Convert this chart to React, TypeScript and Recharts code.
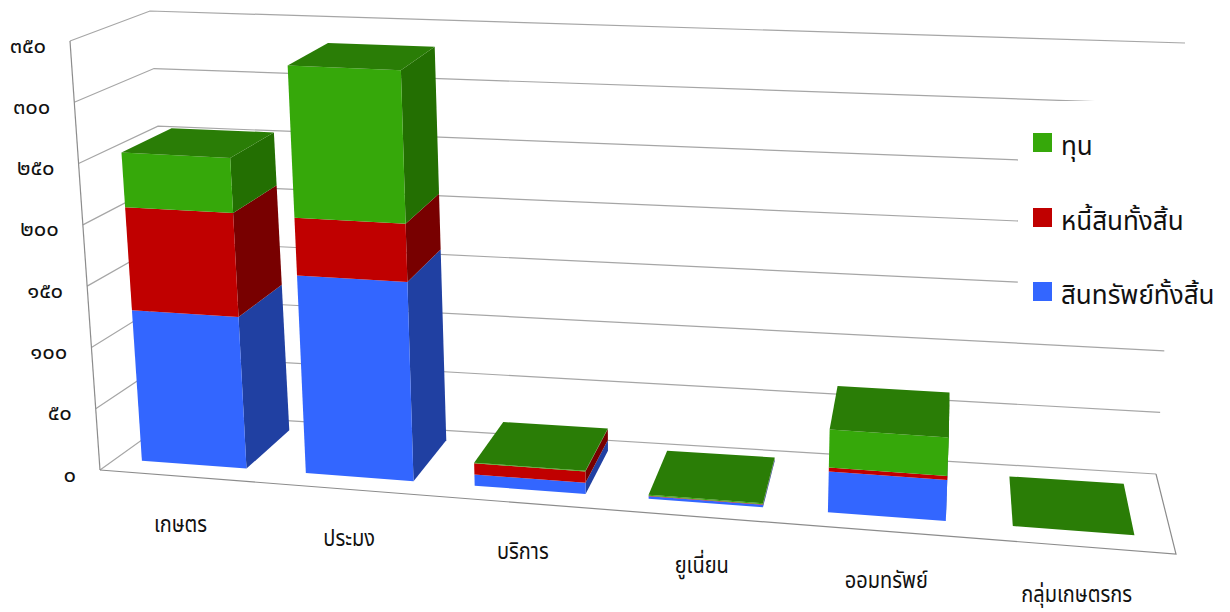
import { BarChart, Bar, XAxis, YAxis, CartesianGrid, Legend } from "recharts";

// values (million baht)
const categories = ["เกษตร", "ประมง", "บริการ", "ยูเนี่ยน", "ออมทรัพย์", "กลุ่มเกษตรกร"];
const assets = [124, 161, 9, 2, 32, 0];
const debts = [85, 47, 9, 0.4, 3, 0];
const equity = [45, 124, 0.5, 0.8, 30, 0];

const yTicks = [0, 50, 100, 150, 200, 250, 300, 350];
const yLabels = ["๐", "๕๐", "๑๐๐", "๑๕๐", "๒๐๐", "๒๕๐", "๓๐๐", "๓๕๐"];

const seriesNames = ["สินทรัพย์ทั้งสิ้น", "หนี้สินทั้งสิ้น", "ทุน"];
const frontColors = ["#3366ff", "#c00000", "#36a80a"];
const sideColors = ["#2040a2", "#780000", "#236f02"];
const topColor = "#2a7d06";

const data = categories.map((name, i) => ({
  name,
  assets: assets[i],
  debts: debts[i],
  equity: equity[i],
}));

const FONT = 'Tahoma, "Noto Sans Thai", "Noto Sans", sans-serif';
const TEXT = "#111";

// flat plot area that recharts works in
const W = 1230;
const H = 612;
const PLOT = { left: 100, top: 41, width: 1076, height: 429 };

// corners of the 3D box on screen: front/back, top/bottom, left/right
const FBL = [100, 470];
const FBR = [1176, 554];
const FTL = [70, 41];
const FTR = [1204, 91];
const BBL = [178, 414];
const BBR = [1156, 474];
const BTL = [150, 11];
const BTR = [1185, 43];

const BAR_FRONT = 0.2;
const BAR_BACK = 0.85;
const BAR_SHIFT = -3;
const PERSPECTIVE = 1.095;

const mix = (a: number[], b: number[], t: number) => [a[0] + (b[0] - a[0]) * t, a[1] + (b[1] - a[1]) * t];

// plot coordinates plus a depth (0 front, 1 back) to screen coordinates
const project = (px: number, py: number, d: number) => {
  const u0 = (px - PLOT.left) / PLOT.width;
  const u = u0 / (PERSPECTIVE - (PERSPECTIVE - 1) * u0);
  const v = (PLOT.top + PLOT.height - py) / PLOT.height;
  const front = mix(mix(FBL, FBR, u), mix(FTL, FTR, u), v);
  const back = mix(mix(BBL, BBR, u), mix(BTL, BTR, u), v);
  return mix(front, back, d);
};

const poly = (pts: number[][]) => pts.map((p) => `${p[0]},${p[1]}`).join(" ");

const Box3D = (props: any) => {
  const { y, width, height, fill, side, isTop } = props;
  const x = props.x + BAR_SHIFT;
  const fl0 = project(x, y + height, BAR_FRONT);
  const fr0 = project(x + width, y + height, BAR_FRONT);
  const fl1 = project(x, y, BAR_FRONT);
  const fr1 = project(x + width, y, BAR_FRONT);
  const br0 = project(x + width, y + height, BAR_BACK);
  const br1 = project(x + width, y, BAR_BACK);
  const bl1 = project(x, y, BAR_BACK);
  return (
    <g>
      {br1[0] > fr1[0] && <polygon points={poly([fr0, br0, br1, fr1])} fill={side} />}
      <polygon points={poly([fl0, fr0, fr1, fl1])} fill={fill} />
      {isTop && <polygon points={poly([fl1, fr1, br1, bl1])} fill={topColor} />}
    </g>
  );
};

const GridLevel = (props: any) => {
  const y = props.y1;
  const isFloor = Math.abs(y - (PLOT.top + PLOT.height)) < 1;
  const isRoof = Math.abs(y - PLOT.top) < 1;
  const right = PLOT.left + PLOT.width;
  const a = project(PLOT.left, y, 0);
  const b = project(PLOT.left, y, 1);
  const c = project(right, y, 1);
  return (
    <g fill="none" strokeWidth={1.2}>
      <polyline points={poly([a, b, c])} stroke="#a6a6a6" />
      {isFloor && <polyline points={poly([a, project(right, y, 0), c])} stroke="#8c8c8c" />}
      {isRoof && <line x1={a[0]} y1={a[1]} x2={FBL[0]} y2={FBL[1]} stroke="#8c8c8c" />}
    </g>
  );
};

const YTick = (props: any) => {
  const [x, y] = project(PLOT.left, props.y, 0);
  return (
    <text x={x - 24} y={y + 11.5} textAnchor="end" fontSize={22} fontFamily={FONT} fill={TEXT}>
      {yLabels[props.index]}
    </text>
  );
};

const XTick = (props: any) => {
  const [x, y] = project(props.x, PLOT.top + PLOT.height, 0);
  return (
    <text
      transform={`translate(${x - 2},${y + 56}) scale(0.87,1)`}
      textAnchor="middle"
      fontSize={23}
      fontFamily={FONT}
      fill={TEXT}
    >
      {props.payload.value}
    </text>
  );
};

const LegendBox = ({ payload }: any) => (
  <div style={{ position: "relative", width: 212, height: 207, background: "#fff", fontFamily: FONT }}>
    {[...(payload || [])].reverse().map((item: any, i: number) => (
      <div key={item.value} style={{ position: "absolute", left: 15, top: 32 + i * 74.5, height: 19, display: "flex", alignItems: "center" }}>
        <span style={{ width: 19, height: 19, background: item.color, marginRight: 9, flex: "none" }} />
        <span style={{ fontSize: 26, color: TEXT, whiteSpace: "nowrap", lineHeight: "19px", position: "relative", top: 5 }}>{item.value}</span>
      </div>
    ))}
  </div>
);

export default function App() {
  return (
    <div style={{ position: "absolute", left: 0, top: 0, width: W, height: H, overflow: "hidden", background: "#fff" }}>
      <div style={{ position: "absolute", left: 4, top: -23, fontSize: 20, fontFamily: FONT, color: TEXT, whiteSpace: "nowrap" }}>
        หน่วย: ล้านบาท
      </div>
      <BarChart
        width={W}
        height={H}
        data={data}
        barCategoryGap="18%"
        margin={{ top: PLOT.top, left: 40, right: W - PLOT.left - PLOT.width, bottom: 112 }}
      >
        <CartesianGrid vertical={false} horizontal={(p: any) => <GridLevel key={p.key} {...p} />} />
        <XAxis dataKey="name" height={30} axisLine={false} tickLine={false} interval={0} tick={(p: any) => <XTick {...p} />} />
        <YAxis width={60} domain={[0, 350]} ticks={yTicks} axisLine={false} tickLine={false} interval={0} tick={(p: any) => <YTick {...p} />} />
        <Legend
          layout="vertical"
          align="center"
          verticalAlign="middle"
          itemSorter={null}
          wrapperStyle={{ left: 1018, top: 101, width: 212, height: 207 }}
          content={<LegendBox />}
        />
        <Bar dataKey="assets" name={seriesNames[0]} stackId="a" fill={frontColors[0]} isAnimationActive={false}
          shape={(p: any) => <Box3D {...p} side={sideColors[0]} />} />
        <Bar dataKey="debts" name={seriesNames[1]} stackId="a" fill={frontColors[1]} isAnimationActive={false}
          shape={(p: any) => <Box3D {...p} side={sideColors[1]} />} />
        <Bar dataKey="equity" name={seriesNames[2]} stackId="a" fill={frontColors[2]} isAnimationActive={false}
          shape={(p: any) => <Box3D {...p} side={sideColors[2]} isTop />} />
      </BarChart>
    </div>
  );
}
